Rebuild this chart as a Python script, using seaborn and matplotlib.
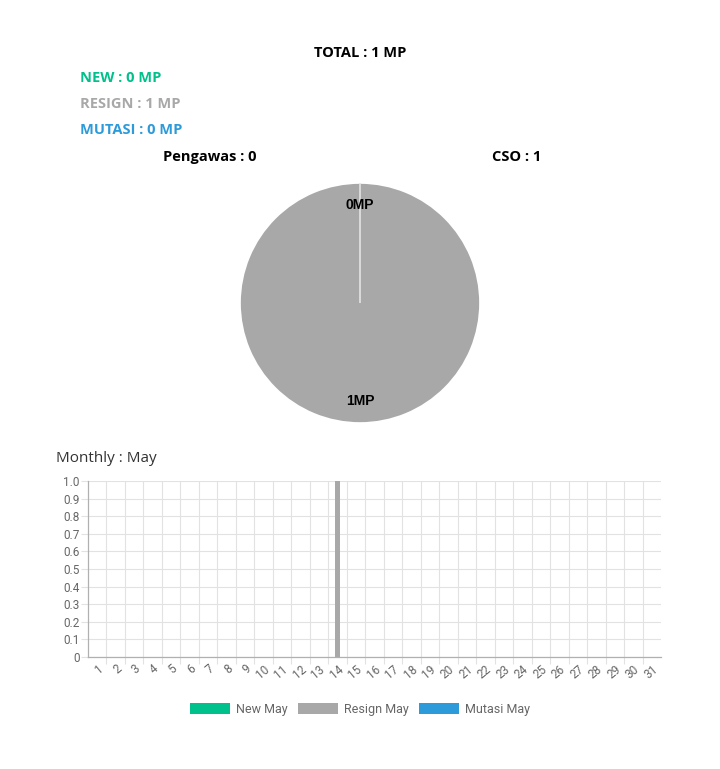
import matplotlib
matplotlib.use("Agg")
import matplotlib.pyplot as plt
import matplotlib.patches as mpatches
import seaborn as sns
import pandas as pd
import numpy as np

# ---------------- data ----------------
total_mp = 1
new_mp = 0
resign_mp = 1
mutasi_mp = 0
pie_labels = ["Pengawas", "CSO"]
pie_values = [0, 1]
month = "May"
days = [str(d) for d in range(1, 32)]
new_vals = [0, 0, 0, 0, 0, 0, 0, 0, 0, 0, 0, 0, 0, 0, 0, 0, 0, 0, 0, 0, 0, 0, 0, 0, 0, 0, 0, 0, 0, 0, 0]
resign_vals = [0, 0, 0, 0, 0, 0, 0, 0, 0, 0, 0, 0, 0, 1, 0, 0, 0, 0, 0, 0, 0, 0, 0, 0, 0, 0, 0, 0, 0, 0, 0]
mutasi_vals = [0, 0, 0, 0, 0, 0, 0, 0, 0, 0, 0, 0, 0, 0, 0, 0, 0, 0, 0, 0, 0, 0, 0, 0, 0, 0, 0, 0, 0, 0, 0]
series_names = ["New May", "Resign May", "Mutasi May"]
y_ticks = [0, 0.1, 0.2, 0.3, 0.4, 0.5, 0.6, 0.7, 0.8, 0.9, 1.0]
y_ticklabels = ["0", "0.1", "0.2", "0.3", "0.4", "0.5", "0.6", "0.7", "0.8", "0.9", "1.0"]

GREEN = "#00c08b"
GRAY = "#a8a8a8"
BLUE = "#2d9ad9"
palette = [GREEN, GRAY, BLUE]

sns.set_theme(style="white")
plt.rcParams["font.family"] = ["Open Sans", "DejaVu Sans"]

W, H = 720, 769
fig = plt.figure(figsize=(W / 100, H / 100), dpi=100)

def fx(x):
    return x / W

def fy(y):
    return 1 - y / H

# ---------------- header texts ----------------
hdr = dict(fontsize=10.5, fontweight="bold", va="center")
fig.text(fx(360), fy(53), f"TOTAL : {total_mp} MP", ha="center", color="black", **hdr)
fig.text(fx(80), fy(78), f"NEW : {new_mp} MP", ha="left", color=GREEN, **hdr)
fig.text(fx(80), fy(104), f"RESIGN : {resign_mp} MP", ha="left", color=GRAY, **hdr)
fig.text(fx(80), fy(130), f"MUTASI : {mutasi_mp} MP", ha="left", color=BLUE, **hdr)
fig.text(fx(210), fy(157), f"{pie_labels[0]} : {pie_values[0]}", ha="center", color="black", **hdr)
fig.text(fx(517), fy(157), f"{pie_labels[1]} : {pie_values[1]}", ha="center", color="black", **hdr)

# ---------------- pie ----------------
cx, cy, r = 360, 303, 120
pax = fig.add_axes([fx(cx - r), fy(cy + r), 2 * r / W, 2 * r / H])
tot = sum(pie_values)
wedges, texts, autotexts = pax.pie(
    pie_values,
    colors=[GREEN, GRAY],
    startangle=90,
    counterclock=False,
    autopct=lambda p: f"{int(round(p * tot / 100))}MP",
    pctdistance=0.82,
    wedgeprops=dict(edgecolor="white", linewidth=1.2),
    textprops=dict(fontsize=10, fontweight="bold", color="black", family=["Liberation Sans", "DejaVu Sans"]),
)
# border of the zero-size slice drawn on top (as in the original chart)
wedges[0].set_zorder(3)
wedges[0].set_edgecolor("#e4e4e4")
for t in autotexts:
    t.set_zorder(4)
pax.set_xlim(-1.0, 1.0)
pax.set_ylim(-1.0, 1.0)
pax.set_aspect("equal")
pax.axis("off")

# ---------------- monthly bar chart ----------------
fig.text(fx(56), fy(458), f"Monthly : {month}", ha="left", va="center", fontsize=11, color="#333333")

rows = []
for name, vals in zip(series_names, [new_vals, resign_vals, mutasi_vals]):
    for d, v in zip(days, vals):
        rows.append({"day": d, "value": v, "series": name})
df = pd.DataFrame(rows)

bax = fig.add_axes([fx(88), fy(657), 573 / W, 176 / H])
sns.barplot(data=df, x="day", y="value", hue="series", hue_order=series_names,
            order=days, palette=palette, width=0.8, legend=False, ax=bax,
            saturation=1, errorbar=None, linewidth=0)
bax.set_xlim(-0.5, len(days) - 0.5)
bax.set_ylim(0, 1.0)
bax.set_xlabel("")
bax.set_ylabel("")
bax.set_yticks(y_ticks)
bax.set_yticklabels(y_ticklabels)
bax.set_xticks(range(len(days)))
bax.set_xticklabels(days, rotation=40, ha="right", rotation_mode="anchor")
bax.set_xticks(np.arange(0.5, len(days) - 1, 1.0), minor=True)

tickfont = ["Roboto", "DejaVu Sans"]
for lab in bax.get_xticklabels() + bax.get_yticklabels():
    lab.set_fontfamily(tickfont)
    lab.set_color("#666666")
    lab.set_fontsize(8.5)

bax.grid(False)
bax.yaxis.grid(True, which="major", color="#e2e2e2", linewidth=0.8)
bax.xaxis.grid(True, which="minor", color="#e2e2e2", linewidth=0.8)
bax.set_axisbelow(True)
bax.tick_params(axis="y", which="major", length=5, width=0.8, color="#e2e2e2", pad=1, left=True)
bax.tick_params(axis="x", which="major", length=0, pad=4)
bax.tick_params(axis="x", which="minor", length=5, width=0.8, color="#e2e2e2", bottom=True)
for s in ["top", "right"]:
    bax.spines[s].set_visible(False)
for s in ["left", "bottom"]:
    bax.spines[s].set_color("#b0b0b0")
    bax.spines[s].set_linewidth(0.9)

handles = [mpatches.Patch(facecolor=c, edgecolor="none", label=n) for c, n in zip(palette, series_names)]
leg = fig.legend(handles=handles, loc="center", bbox_to_anchor=(fx(360), fy(709)), ncol=3,
                 frameon=False, fontsize=9, handlelength=3.2, handleheight=0.95,
                 handletextpad=0.5, columnspacing=0.8,
                 prop=dict(family=["Roboto", "DejaVu Sans"], size=9))
for t in leg.get_texts():
    t.set_color("#666666")

fig.savefig("out.png", dpi=100)
